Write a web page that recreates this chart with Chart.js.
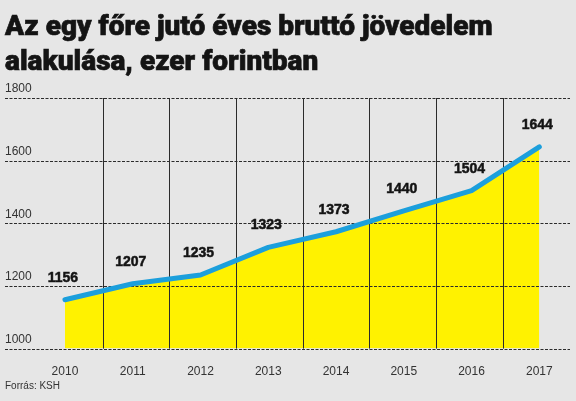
<!DOCTYPE html>
<html>
<head>
<meta charset="utf-8">
<script src="https://cdn.jsdelivr.net/npm/chart.js@4/dist/chart.umd.min.js"></script>
<style>
  html, body { margin: 0; padding: 0; background: #e6e6e6; }
  #wrap { position: relative; width: 576px; height: 401px; }
  #title {
    position: absolute; left: 5px; top: 8px;
    font-family: 'Roboto', 'Liberation Sans', sans-serif;
    font-weight: 900; font-size: 28px; line-height: 35px;
    color: #141414; white-space: nowrap;
    -webkit-text-stroke: 0.7px #141414;
  }
  #source {
    position: absolute; left: 5px; top: 380px;
    font-family: 'Liberation Sans', Arial, sans-serif;
    font-size: 10px; color: #333;
  }
  canvas { position: absolute; left: 0; top: 0; }
</style>
</head>
<body>
<div id="wrap">
  <canvas id="chart" width="576" height="401"></canvas>
  <div id="title">Az egy főre jutó éves bruttó jövedelem<br>alakulása, ezer forintban</div>
  <div id="source">Forrás: KSH</div>
</div>
<script>
const years = ['2010', '2011', '2012', '2013', '2014', '2015', '2016', '2017'];
const income = [1156, 1207, 1235, 1323, 1373, 1440, 1504, 1644];
const yTicks = [1000, 1200, 1400, 1600, 1800];
const dividers = [1, 2, 3, 4, 5, 6, 7];

const yellow = '#fff200';
const blue = '#1c9fdc';
const ink = '#2b2b2b';

const points = income.map((v, i) => ({ x: i, y: v }));

// grid goes over the yellow area but under the blue line
const gridPlugin = {
    id: 'gridBetween',
    beforeDatasetDraw(chart, args) {
        if (args.index !== 1) return;
        const { ctx, chartArea } = chart;
        const y = chart.scales.y;
        const x2 = chart.scales.x2;
        ctx.save();
        ctx.lineWidth = 1;
        ctx.strokeStyle = ink;
        ctx.setLineDash([3, 1.5]);
        yTicks.forEach(t => {
            const py = Math.round(y.getPixelForValue(t)) + 0.5;
            ctx.beginPath();
            ctx.moveTo(chartArea.left, py);
            ctx.lineTo(chartArea.right, py);
            ctx.stroke();
        });
        ctx.setLineDash([]);
        dividers.forEach(d => {
            const px = Math.round(x2.getPixelForValue(d)) + 0.5;
            ctx.beginPath();
            ctx.moveTo(px, chartArea.top);
            ctx.lineTo(px, chartArea.bottom);
            ctx.stroke();
        });
        ctx.restore();
    }
};

const valueLabels = {
    id: 'valueLabels',
    afterDatasetsDraw(chart) {
        const { ctx } = chart;
        const meta = chart.getDatasetMeta(1);
        ctx.save();
        ctx.font = "bold 14px 'Liberation Sans', Arial, sans-serif";
        ctx.fillStyle = '#141414';
        ctx.strokeStyle = '#141414';
        ctx.lineWidth = 0.5;
        ctx.textAlign = 'center';
        ctx.textBaseline = 'middle';
        meta.data.forEach((pt, i) => {
            ctx.fillText(String(income[i]), pt.x - 2, pt.y - 22);
            ctx.strokeText(String(income[i]), pt.x - 2, pt.y - 22);
        });
        ctx.restore();
    }
};

new Chart(document.getElementById('chart'), {
    type: 'line',
    data: {
        datasets: [
            {
                label: 'area',
                data: points,
                fill: 'origin',
                backgroundColor: yellow,
                borderWidth: 0,
                pointRadius: 0,
                tension: 0,
                order: 2
            },
            {
                label: 'Jövedelem',
                data: points,
                fill: false,
                borderColor: blue,
                borderWidth: 5,
                borderCapStyle: 'round',
                borderJoinStyle: 'round',
                pointRadius: 0,
                tension: 0,
                order: 1
            }
        ]
    },
    options: {
        responsive: false,
        animation: false,
        events: [],
        layout: { padding: { top: 98, left: 5, right: 6, bottom: 14 } },
        plugins: { legend: { display: false }, tooltip: { enabled: false } },
        scales: {
            x: {
                type: 'linear',
                min: -0.885,
                max: 7.453,
                afterBuildTicks: axis => { axis.ticks = years.map((_, i) => ({ value: i })); },
                ticks: {
                    autoSkip: false,
                    maxRotation: 0,
                    padding: 8,
                    color: '#333',
                    font: { family: "'Liberation Sans', Arial, sans-serif", size: 12 },
                    callback: v => years[v]
                },
                grid: { display: false },
                border: { display: false }
            },
            x2: {
                type: 'linear',
                display: false,
                min: -0.4655,
                max: 8.01
            },
            y: {
                min: 1000,
                max: 1800,
                afterBuildTicks: axis => { axis.ticks = yTicks.map(v => ({ value: v })); },
                afterFit: axis => { axis.width = 0; },
                ticks: {
                    mirror: true,
                    padding: 0,
                    labelOffset: -9,
                    color: '#333',
                    font: { family: "'Liberation Sans', Arial, sans-serif", size: 12 },
                    callback: v => String(v)
                },
                grid: { display: false },
                border: { display: false }
            }
        }
    },
    plugins: [gridPlugin, valueLabels]
});
</script>
</body>
</html>
